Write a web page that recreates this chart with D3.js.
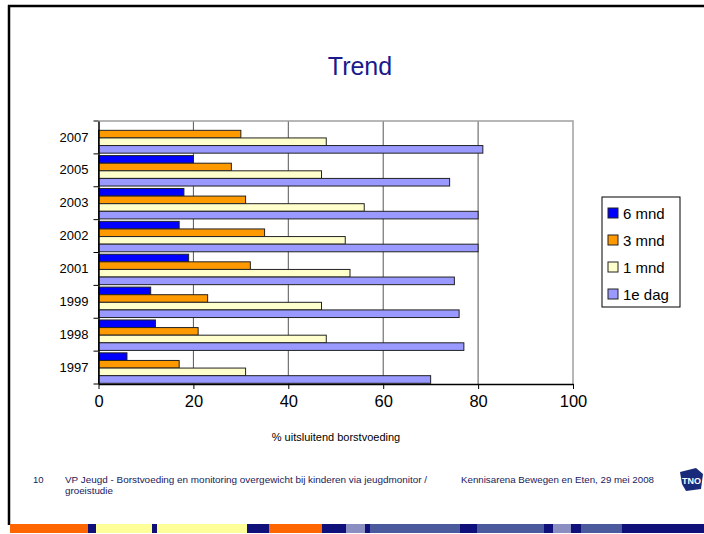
<!DOCTYPE html>
<html lang="nl">
<head>
  <meta charset="UTF-8">
  <title>Trend</title>
  <script src="https://d3js.org/d3.v7.min.js"></script>
  <style>
    body { margin: 0; padding: 0; background: #fff; }
    svg { display: block; font-family: Arial, "Liberation Sans", sans-serif; }
  </style>
</head>
<body>
  <div id="chart"></div>
  <script>
    // data
    const years = ["2007", "2005", "2003", "2002", "2001", "1999", "1998", "1997"];
    const seriesNames = ["6 mnd", "3 mnd", "1 mnd", "1e dag"];
    const seriesColors = ["#0000ff", "#ff9900", "#ffffcc", "#9999ff"];
    const mnd6 = [null, 20, 18, 17, 19, 11, 12, 6];
    const mnd3 = [30, 28, 31, 35, 32, 23, 21, 17];
    const mnd1 = [48, 47, 56, 52, 53, 47, 48, 31];
    const dag1 = [81, 74, 80, 80, 75, 76, 77, 70];
    const xTicks = [0, 20, 40, 60, 80, 100];

    const series = [mnd6, mnd3, mnd1, dag1];

    const W = 704, H = 534;
    const svg = d3.select("#chart").append("svg")
      .attr("width", W)
      .attr("height", H);

    // slide frame
    svg.append("line").attr("x1", 8).attr("x2", W).attr("y1", 6).attr("y2", 6)
      .attr("stroke", "#000").attr("stroke-width", 2.5);
    svg.append("line").attr("x1", 9).attr("x2", 9).attr("y1", 5).attr("y2", 525)
      .attr("stroke", "#000").attr("stroke-width", 2.5);

    // title
    svg.append("text")
      .attr("x", 360).attr("y", 75)
      .attr("text-anchor", "middle")
      .attr("font-size", 25)
      .attr("fill", "#1a1a8c")
      .text("Trend");

    const plot = { left: 98.5, right: 573, top: 121, bottom: 384 };

    const x = d3.scaleLinear().domain([0, 100]).range([plot.left, plot.right]);
    const y = d3.scaleBand().domain(years).range([plot.top, plot.bottom]).paddingInner(0).paddingOuter(0);
    const yInner = d3.scaleBand().domain(seriesNames).range([0, y.bandwidth()]).paddingInner(0).paddingOuter(0.16);

    // gridlines
    svg.append("g")
      .selectAll("line")
      .data(xTicks.slice(1, -1))
      .join("line")
      .attr("x1", d => x(d)).attr("x2", d => x(d))
      .attr("y1", plot.top).attr("y2", plot.bottom)
      .attr("stroke", "#555").attr("stroke-width", 1);

    // plot border top/right
    svg.append("path")
      .attr("d", `M${plot.left},${plot.top}H${plot.right}V${plot.bottom}`)
      .attr("fill", "none")
      .attr("stroke", "#a0a0a0")
      .attr("stroke-width", 1.5);

    // bars
    const barG = svg.append("g");
    series.forEach((vals, si) => {
      barG.append("g")
        .selectAll("rect")
        .data(years.map((yr, i) => ({ yr, v: vals[i] })).filter(d => d.v != null))
        .join("rect")
        .attr("x", x(0))
        .attr("y", d => y(d.yr) + yInner(seriesNames[si]) + 0.5)
        .attr("width", d => x(d.v) - x(0))
        .attr("height", yInner.bandwidth())
        .attr("fill", seriesColors[si])
        .attr("stroke", "#222")
        .attr("stroke-width", 1);
    });

    // x axis
    const xAxis = svg.append("g")
      .attr("transform", `translate(0,${plot.bottom})`)
      .call(d3.axisBottom(x).tickValues(xTicks).tickSize(5).tickPadding(6).tickSizeOuter(0));
    xAxis.select(".domain").attr("stroke", "#000").attr("stroke-width", 1.5);
    xAxis.selectAll(".tick line").attr("stroke", "#000");
    xAxis.selectAll("text").attr("font-size", 16.5).attr("fill", "#000").attr("font-family", "Arial, 'Liberation Sans', sans-serif");

    // y axis (ticks at category boundaries)
    const yAxis = svg.append("g")
      .attr("transform", `translate(${plot.left},0)`)
      .call(d3.axisLeft(y).tickSize(0).tickPadding(10));
    yAxis.select(".domain").attr("stroke", "#000").attr("stroke-width", 1.5);
    yAxis.selectAll("text").attr("font-size", 13).attr("fill", "#000").attr("font-family", "Arial, 'Liberation Sans', sans-serif");
    yAxis.selectAll(".bound")
      .data(years.concat([null]))
      .join("line")
      .attr("class", "bound")
      .attr("x1", -5).attr("x2", 0)
      .attr("y1", d => d == null ? plot.bottom : y(d))
      .attr("y2", d => d == null ? plot.bottom : y(d))
      .attr("stroke", "#000");

    // axis title
    svg.append("text")
      .attr("x", 336).attr("y", 441)
      .attr("text-anchor", "middle")
      .attr("font-size", 11)
      .text("% uitsluitend borstvoeding");

    // legend
    const leg = svg.append("g").attr("transform", "translate(602,197)");
    leg.append("rect").attr("width", 78).attr("height", 110)
      .attr("fill", "#fff").attr("stroke", "#000").attr("stroke-width", 1);
    seriesNames.forEach((name, i) => {
      const g = leg.append("g").attr("transform", `translate(6,${11 + i * 27})`);
      g.append("rect").attr("width", 10).attr("height", 10)
        .attr("fill", seriesColors[i]).attr("stroke", "#222");
      g.append("text").attr("x", 15).attr("y", 10.5)
        .attr("font-size", 15).text(name);
    });

    // footer
    const foot = svg.append("g").attr("fill", "#1a1a5a");
    foot.append("text").attr("x", 33).attr("y", 483).attr("font-size", 9.5).text("10");
    foot.append("text").attr("x", 65).attr("y", 483).attr("font-size", 9.8)
      .attr("textLength", 362).attr("lengthAdjust", "spacingAndGlyphs")
      .text("VP Jeugd - Borstvoeding en monitoring overgewicht bij kinderen via jeugdmonitor /");
    foot.append("text").attr("x", 65).attr("y", 494).attr("font-size", 9.8).text("groeistudie");
    foot.append("text").attr("x", 461).attr("y", 483).attr("font-size", 9.8)
      .attr("textLength", 193).attr("lengthAdjust", "spacingAndGlyphs")
      .text("Kennisarena Bewegen en Eten, 29 mei 2008");

    // TNO logo
    const logo = svg.append("g").attr("transform", "translate(680,468)");
    logo.append("path").attr("d", "M0,4 L16,0 L23,6 L21,21 L6,23 L2,16 Z").attr("fill", "#1a2a7a");
    logo.append("text").attr("x", 11.5).attr("y", 15.5).attr("text-anchor", "middle")
      .attr("font-size", 9).attr("font-weight", "bold").attr("fill", "#fff").text("TNO");

    // bottom stripe
    const stripeEdges = [10, 88, 96, 152, 157, 247, 269, 322, 346, 365, 370, 460, 477, 544, 553, 571, 581, 622, 704];
    const stripeColors = ["#ff6600", "#10107a", "#ffff99", "#10107a", "#ffff99", "#10107a", "#ff6600", "#10107a",
      "#8a8ec0", "#10107a", "#4a5a9c", "#10107a", "#4a5a9c", "#10107a", "#8a8ec0", "#10107a", "#4a5a9c", "#10107a"];
    svg.append("g").selectAll("rect")
      .data(stripeColors)
      .join("rect")
      .attr("x", (d, i) => stripeEdges[i])
      .attr("width", (d, i) => stripeEdges[i + 1] - stripeEdges[i])
      .attr("y", 524).attr("height", 9)
      .attr("fill", d => d);
  </script>
</body>
</html>
